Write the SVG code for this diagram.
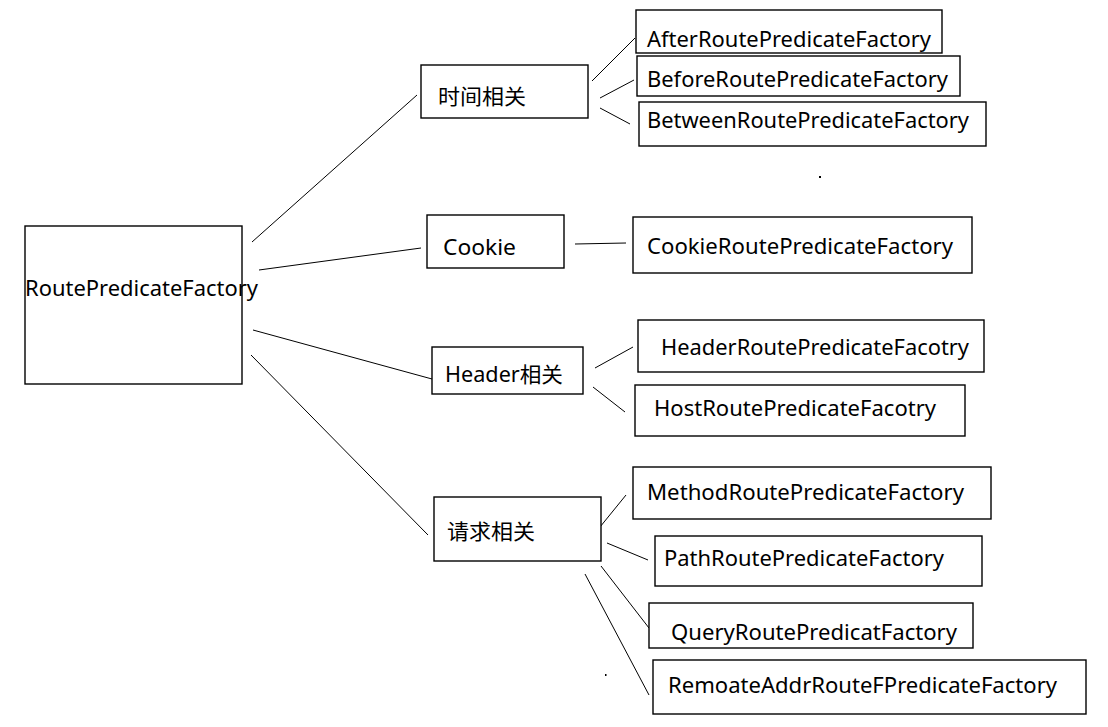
<svg xmlns="http://www.w3.org/2000/svg" width="1108" height="727" viewBox="0 0 1108 727">
<style>
rect.box{fill:#fff;stroke:#000;stroke-width:1.4}
text{font-family:"Noto Sans","Noto Sans CJK SC",sans-serif;font-size:21px;fill:#000}
#connectors line{stroke:#000;stroke-width:1}
</style>
<rect width="1108" height="727" fill="#fff"/>
<g id="connectors">
<line x1="252" y1="242" x2="417" y2="95"/>
<line x1="259" y1="270" x2="421" y2="248"/>
<line x1="253" y1="330" x2="432" y2="379"/>
<line x1="251" y1="355" x2="428" y2="535"/>
<line x1="592" y1="81" x2="635" y2="38"/>
<line x1="600" y1="98" x2="634" y2="80"/>
<line x1="600" y1="108" x2="630" y2="124"/>
<line x1="575" y1="244" x2="626" y2="243"/>
<line x1="595" y1="368" x2="633" y2="347"/>
<line x1="593" y1="387" x2="625" y2="412"/>
<line x1="600" y1="527" x2="626" y2="495"/>
<line x1="607" y1="543" x2="648" y2="560"/>
<line x1="601" y1="566" x2="649" y2="628"/>
<line x1="585" y1="574" x2="649" y2="695"/>
</g>
<g id="root"><rect class="box" x="25" y="226" width="217" height="158"/><text x="25" y="296" textLength="233" lengthAdjust="spacingAndGlyphs">RoutePredicateFactory</text></g>
<g id="time"><rect class="box" x="421" y="65" width="167" height="53"/><text x="438" y="104" textLength="88" lengthAdjust="spacingAndGlyphs">时间相关</text></g>
<g id="cookie"><rect class="box" x="427" y="215" width="137" height="53"/><text x="443" y="255" textLength="73" lengthAdjust="spacingAndGlyphs">Cookie</text></g>
<g id="header"><rect class="box" x="432" y="347" width="151" height="47"/><text x="445" y="382" textLength="118" lengthAdjust="spacingAndGlyphs">Header相关</text></g>
<g id="request"><rect class="box" x="434" y="497" width="167" height="64"/><text x="447" y="539" textLength="88" lengthAdjust="spacingAndGlyphs">请求相关</text></g>
<g id="after"><rect class="box" x="636" y="10" width="306" height="43"/><text x="647" y="47" textLength="284" lengthAdjust="spacingAndGlyphs">AfterRoutePredicateFactory</text></g>
<g id="before"><rect class="box" x="637" y="56" width="323" height="40"/><text x="647" y="87" textLength="301" lengthAdjust="spacingAndGlyphs">BeforeRoutePredicateFactory</text></g>
<g id="between"><rect class="box" x="639" y="102" width="347" height="44"/><text x="647" y="128" textLength="322" lengthAdjust="spacingAndGlyphs">BetweenRoutePredicateFactory</text></g>
<g id="cookieRPF"><rect class="box" x="633" y="217" width="339" height="56"/><text x="647" y="254" textLength="306" lengthAdjust="spacingAndGlyphs">CookieRoutePredicateFactory</text></g>
<g id="headerRPF"><rect class="box" x="638" y="320" width="346" height="52"/><text x="661" y="355" textLength="308" lengthAdjust="spacingAndGlyphs">HeaderRoutePredicateFacotry</text></g>
<g id="hostRPF"><rect class="box" x="635" y="385" width="330" height="51"/><text x="654" y="416" textLength="282" lengthAdjust="spacingAndGlyphs">HostRoutePredicateFacotry</text></g>
<g id="methodRPF"><rect class="box" x="633" y="467" width="358" height="52"/><text x="647" y="500" textLength="317" lengthAdjust="spacingAndGlyphs">MethodRoutePredicateFactory</text></g>
<g id="pathRPF"><rect class="box" x="655" y="536" width="327" height="50"/><text x="664" y="566" textLength="280" lengthAdjust="spacingAndGlyphs">PathRoutePredicateFactory</text></g>
<g id="queryRPF"><rect class="box" x="649" y="603" width="324" height="45"/><text x="671" y="640" textLength="286" lengthAdjust="spacingAndGlyphs">QueryRoutePredicatFactory</text></g>
<g id="remoteRPF"><rect class="box" x="653" y="660" width="433" height="54"/><text x="668" y="693" textLength="389" lengthAdjust="spacingAndGlyphs">RemoateAddrRouteFPredicateFactory</text></g>
<rect x="819" y="176" width="2" height="2" fill="#000"/>
<rect x="605" y="674" width="1.5" height="2" fill="#000"/>
</svg>
